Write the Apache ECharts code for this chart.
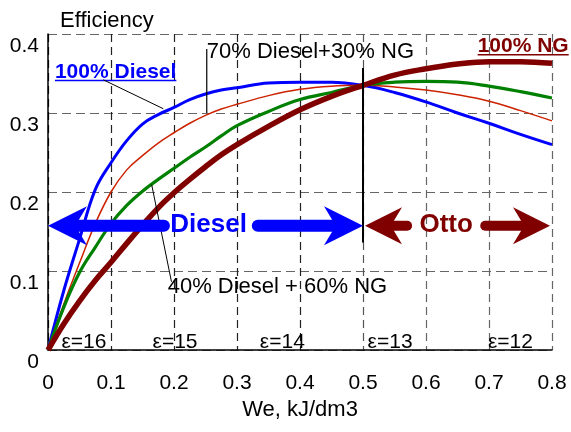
<!DOCTYPE html>
<html><head><meta charset="utf-8">
<script src="https://cdn.jsdelivr.net/npm/echarts@6/dist/echarts.min.js"></script>
<style>html,body{margin:0;padding:0;background:#fff}#c{width:571px;height:432px}</style>
</head><body><div id="c"></div>
<script>
// ---- data ----
const xValues = [0,0.025,0.05,0.075,0.1,0.125,0.15,0.175,0.2,0.225,0.25,0.275,0.3,0.35,0.4,0.45,0.5,0.55,0.6,0.65,0.7,0.75,0.8];
const diesel100 = [0,0.075,0.14,0.203,0.237,0.265,0.286,0.298,0.307,0.317,0.324,0.329,0.332,0.338,0.339,0.339,0.335,0.326,0.314,0.300,0.287,0.273,0.260];
const mix70_30  = [0,0.058,0.11,0.16,0.2,0.228,0.246,0.262,0.275,0.287,0.297,0.305,0.311,0.322,0.33,0.334,0.335,0.333,0.329,0.323,0.315,0.303,0.29];
const mix40_60  = [0,0.054,0.098,0.13,0.16,0.183,0.201,0.216,0.23,0.244,0.257,0.271,0.284,0.302,0.317,0.326,0.335,0.339,0.340,0.339,0.334,0.327,0.319];
const ng100     = [0,0.033,0.062,0.088,0.111,0.135,0.158,0.18,0.199,0.216,0.232,0.247,0.26,0.283,0.304,0.321,0.335,0.348,0.356,0.362,0.365,0.365,0.363];
const seriesNames = ['100% Diesel','70% Diesel+30% NG','40% Diesel + 60% NG','100% NG'];
const epsLabels = ['ε=16','ε=15','ε=14','ε=13','ε=12'];
const modeLabels = ['Diesel','Otto'];
const yAxisTitle = 'Efficiency';
const xAxisTitle = 'We, kJ/dm3';

const FONT = '"Liberation Sans", Arial, Helvetica, sans-serif';
const pair = ys => xValues.map((x,i)=>[x, ys[i]]);
const chart = echarts.init(document.getElementById('c'), null, {renderer:'canvas'});
const xSplitColors = ['#000','#222','#222','#222','#222','#555','#666','#666','#666'];

chart.setOption({
  animation:false,
  grid:{left:48,right:19,top:34,bottom:82},
  xAxis:{type:'value',min:0,max:0.8,interval:0.1,
    name:xAxisTitle,nameLocation:'middle',nameGap:46,
    nameTextStyle:{fontFamily:FONT,fontSize:22,color:'#000'},
    axisLine:{show:true,onZero:false,lineStyle:{color:'#000',width:1.5}},
    axisTick:{show:false},
    axisLabel:{fontFamily:FONT,fontSize:21,color:'#000',margin:22,lineHeight:22},
    splitLine:{show:true,lineStyle:{type:[8,5],width:1.2,color:xSplitColors}}},
  yAxis:{type:'value',min:0,max:0.4,interval:0.1,
    axisLine:{show:true,onZero:false,lineStyle:{color:'#000',width:1.5}},
    axisTick:{show:false},
    axisLabel:{fontFamily:FONT,fontSize:21,color:'#000',margin:9,verticalAlign:'top',lineHeight:24},
    splitLine:{show:true,lineStyle:{type:[9,5],width:1.2,color:'#666'}}},
  series:[
    {name:seriesNames[0],type:'line',data:pair(diesel100),showSymbol:false,smooth:0.4,lineStyle:{color:'#0000ff',width:3},z:3},
    {name:seriesNames[1],type:'line',data:pair(mix70_30),showSymbol:false,smooth:0.4,lineStyle:{color:'#cc2200',width:1.5},z:4},
    {name:seriesNames[2],type:'line',data:pair(mix40_60),showSymbol:false,smooth:0.4,lineStyle:{color:'#008000',width:3.2},z:5},
    {name:seriesNames[3],type:'line',data:pair(ng100),showSymbol:false,smooth:0.4,lineStyle:{color:'#800000',width:5.5},z:6}
  ]
});

const P = (x,y)=>chart.convertToPixel({gridIndex:0},[x,y]);
const ctx = document.createElement('canvas').getContext('2d');
function tw(s, size, weight){ ctx.font = (weight||'normal')+' '+size+'px '+FONT; return ctx.measureText(s).width; }
const G = [];
function text(s, x, y, o){
  o = o||{};
  G.push({type:'text',x:x,y:y,z:200,style:{text:s,fontFamily:FONT,fontSize:o.size||22,fontWeight:o.weight||'normal',
    fill:o.color||'#000',align:o.align||'left',verticalAlign:'middle',textAlign:o.align||'left',textVerticalAlign:'middle'}});
}
function line(p1,p2,o){
  o=o||{};
  G.push({type:'line',z:o.z||150,shape:{x1:p1[0],y1:p1[1],x2:p2[0],y2:p2[1]},
    style:{stroke:o.color||'#000',lineWidth:o.width||1,lineCap:o.cap||'butt'}});
}
function arrow(tip, back, y, L, W, shaftW, color){
  const d = back>tip?1:-1;
  G.push({type:'polygon',z:160,shape:{points:[[tip,y],[tip+d*L,y-W],[tip+d*0.7*L,y],[tip+d*L,y+W]]},style:{fill:color}});
  line([tip+d*0.6*L,y],[back,y],{color:color,width:shaftW,cap:'round',z:159});
}

// title
text(yAxisTitle, 60, 21, {size:22});
// vertical separation line at 0.5
line(P(0.5,0.357), P(0.5,0.136), {width:2});

// arrows
const yA = P(0,0.1573)[1];
arrow(P(0,0)[0], P(0.184,0)[0], yA, 39, 19.5, 12, '#0000ff');
arrow(P(0.5,0)[0], P(0.333,0)[0], yA, 39, 19.5, 12, '#0000ff');
arrow(P(0.5,0)[0]+2, P(0.57,0)[0], yA, 37, 18.5, 10, '#800000');
arrow(P(0.8,0)[0]-2, P(0.694,0)[0], yA, 37, 18.5, 10, '#800000');
text(modeLabels[0], P(0.255,0)[0], yA-1, {size:26,weight:'bold',color:'#0000ff',align:'center'});
text(modeLabels[1], P(0.632,0)[0], yA-1, {size:26,weight:'bold',color:'#800000',align:'center'});

// series labels
let p = P(0.011,0.352);
text(seriesNames[0], p[0], p[1], {size:21,weight:'bold',color:'#0000ff'});
let w = tw(seriesNames[0],21,'bold');
line([p[0],p[1]+8.5],[p[0]+w,p[1]+8.5],{color:'#0000ff',width:1.5});
line(P(0.0878,0.342), P(0.183,0.3054), {width:1});

p = P(0.682,0.384);
text(seriesNames[3], p[0], p[1], {size:21,weight:'bold',color:'#800000'});
w = tw(seriesNames[3],21,'bold');
line([p[0],p[1]+8],[p[0]+w,p[1]+8],{color:'#800000',width:1.5});

p = P(0.252,0.3776);
text(seriesNames[1], p[0], p[1], {size:22});
line(P(0.252,0.381), P(0.252,0.3), {width:1.2});

p = P(0.19,0.080);
text(seriesNames[2], p[0], p[1], {size:22});
line(P(0.1646,0.2092), P(0.196,0.0864), {width:1});

// compression ratio labels
const epsX = [0.057,0.2016,0.372,0.543,0.734];
epsLabels.forEach((s,i)=>{ const q = P(epsX[i],0.0105); text(s,q[0],q[1],{size:21,align:'center'}); });

chart.setOption({graphic:G});
</script></body></html>
